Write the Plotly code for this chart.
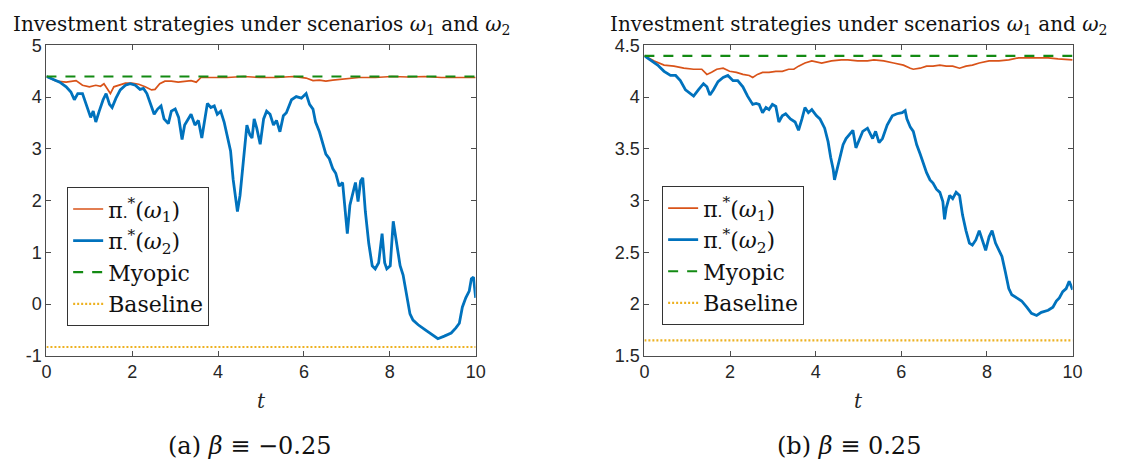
import plotly.graph_objects as go

# ---------------- data ----------------
# Panel (a): beta = -0.25
t_a_w2 = [0.00, 0.15, 0.31, 0.46, 0.57, 0.65, 0.73, 0.84, 0.96, 1.03,
          1.09, 1.15, 1.23, 1.32, 1.39, 1.47, 1.53, 1.62, 1.72, 1.84,
          1.95, 2.07, 2.18, 2.26, 2.34, 2.44, 2.51, 2.59, 2.67, 2.74,
          2.84, 2.91, 3.00, 3.08, 3.16, 3.22, 3.30, 3.37, 3.46, 3.54,
          3.62, 3.68, 3.75, 3.83, 3.91, 3.98, 4.06, 4.14, 4.21, 4.29,
          4.35, 4.41, 4.45, 4.51, 4.56, 4.61, 4.67, 4.74, 4.79, 4.84,
          4.90, 4.98, 5.06, 5.13, 5.21, 5.29, 5.36, 5.44, 5.52, 5.59,
          5.71, 5.82, 5.94, 6.05, 6.13, 6.21, 6.27, 6.36, 6.44, 6.51,
          6.59, 6.67, 6.74, 6.82, 6.90, 6.97, 7.01, 7.07, 7.14, 7.20,
          7.26, 7.32, 7.37, 7.43, 7.51, 7.59, 7.66, 7.74, 7.82, 7.88,
          7.93, 8.01, 8.08, 8.16, 8.24, 8.31, 8.39, 8.47, 8.54, 8.66,
          8.81, 8.97, 9.12, 9.27, 9.43, 9.54, 9.62, 9.69, 9.77, 9.85,
          9.90, 9.95, 10.00]
v_a_w2 = [4.40, 4.35, 4.29, 4.20, 4.10, 3.95, 4.07, 4.07, 3.77, 3.61,
          3.73, 3.52, 3.73, 3.95, 4.07, 3.86, 3.80, 3.98, 4.14, 4.23,
          4.26, 4.23, 4.15, 4.17, 4.07, 3.83, 3.67, 3.77, 3.83, 3.58,
          3.49, 3.73, 3.77, 3.61, 3.18, 3.46, 3.58, 3.67, 3.46, 3.55,
          3.21, 3.52, 3.88, 3.80, 3.83, 3.67, 3.73, 3.52, 3.27, 2.96,
          2.41, 2.04, 1.79, 2.10, 2.53, 2.96, 3.46, 3.27, 3.21, 3.58,
          3.40, 3.09, 3.58, 3.73, 3.67, 3.46, 3.55, 3.33, 3.64, 3.70,
          3.95, 4.01, 3.98, 4.07, 3.86, 3.77, 3.52, 3.33, 3.09, 2.90,
          2.81, 2.62, 2.53, 2.28, 2.35, 1.79, 1.36, 1.91, 2.16, 2.35,
          1.98, 2.38, 2.44, 1.79, 1.17, 0.74, 0.68, 0.80, 1.36, 0.80,
          0.68, 0.74, 1.60, 1.17, 0.74, 0.56, 0.19, -0.19, -0.31, -0.40,
          -0.49, -0.59, -0.67, -0.62, -0.56, -0.46, -0.37, -0.06, 0.12, 0.25,
          0.49, 0.52, 0.12]

t_a_w1 = [0.00, 0.23, 0.46, 0.69, 0.84, 1.00, 1.15, 1.26, 1.34, 1.42,
          1.49, 1.57, 1.69, 1.84, 1.99, 2.15, 2.30, 2.45, 2.53, 2.64,
          2.76, 2.91, 3.07, 3.22, 3.37, 3.49, 3.60, 3.83, 4.21, 4.60,
          4.98, 5.36, 5.75, 6.05, 6.21, 6.36, 6.51, 6.67, 6.90, 7.28,
          7.66, 8.05, 8.43, 8.81, 9.20, 9.58, 10.00]
v_a_w1 = [4.40, 4.31, 4.29, 4.32, 4.23, 4.20, 4.23, 4.21, 4.26, 4.17,
          4.07, 4.20, 4.23, 4.27, 4.27, 4.25, 4.20, 4.14, 4.15, 4.26,
          4.31, 4.31, 4.29, 4.30, 4.32, 4.29, 4.38, 4.38, 4.38, 4.40,
          4.38, 4.38, 4.40, 4.37, 4.32, 4.33, 4.31, 4.33, 4.35, 4.38,
          4.38, 4.40, 4.39, 4.40, 4.38, 4.38, 4.38]

# Panel (b): beta = 0.25
t_b_w2 = [0.00, 0.15, 0.31, 0.46, 0.61, 0.73, 0.84, 0.96, 1.07, 1.15,
          1.26, 1.38, 1.46, 1.53, 1.61, 1.72, 1.84, 1.95, 2.07, 2.18,
          2.30, 2.41, 2.53, 2.61, 2.68, 2.76, 2.84, 2.91, 2.99, 3.07,
          3.14, 3.22, 3.30, 3.41, 3.52, 3.60, 3.68, 3.75, 3.83, 3.91,
          4.02, 4.10, 4.21, 4.29, 4.35, 4.41, 4.44, 4.51, 4.56, 4.64,
          4.71, 4.79, 4.87, 4.94, 5.02, 5.10, 5.21, 5.33, 5.40, 5.48,
          5.56, 5.67, 5.79, 5.90, 6.02, 6.09, 6.13, 6.21, 6.28, 6.36,
          6.44, 6.51, 6.59, 6.67, 6.74, 6.82, 6.90, 6.97, 7.01, 7.05,
          7.13, 7.20, 7.28, 7.36, 7.43, 7.51, 7.59, 7.66, 7.74, 7.82,
          7.89, 7.97, 8.05, 8.12, 8.20, 8.28, 8.35, 8.43, 8.51, 8.58,
          8.70, 8.81, 8.93, 9.04, 9.16, 9.27, 9.43, 9.54, 9.62, 9.69,
          9.77, 9.85, 9.92, 10.00]
v_b_w2 = [4.40, 4.36, 4.31, 4.25, 4.21, 4.21, 4.16, 4.07, 4.04, 4.01,
          4.07, 4.13, 4.10, 4.02, 4.07, 4.15, 4.19, 4.21, 4.16, 4.16,
          4.10, 4.01, 3.93, 3.94, 3.93, 3.85, 3.90, 3.88, 3.93, 3.91,
          3.76, 3.82, 3.84, 3.79, 3.76, 3.68, 3.79, 3.90, 3.85, 3.88,
          3.82, 3.79, 3.70, 3.57, 3.42, 3.30, 3.20, 3.33, 3.42, 3.54,
          3.60, 3.64, 3.68, 3.51, 3.60, 3.67, 3.70, 3.60, 3.67, 3.56,
          3.60, 3.73, 3.82, 3.84, 3.85, 3.87, 3.79, 3.71, 3.67, 3.54,
          3.45, 3.36, 3.27, 3.20, 3.17, 3.11, 3.08, 2.99, 2.82, 2.93,
          3.05, 3.02, 3.08, 3.05, 2.86, 2.71, 2.59, 2.57, 2.62, 2.71,
          2.62, 2.52, 2.65, 2.71, 2.59, 2.52, 2.46, 2.31, 2.15, 2.09,
          2.06, 2.03, 1.97, 1.91, 1.89, 1.92, 1.94, 1.97, 2.03, 2.06,
          2.12, 2.15, 2.22, 2.14]

t_b_w1 = [0.00, 0.23, 0.46, 0.69, 0.92, 1.15, 1.34, 1.46, 1.57, 1.69,
          1.84, 1.99, 2.15, 2.30, 2.45, 2.53, 2.64, 2.76, 2.91, 3.07,
          3.22, 3.37, 3.49, 3.60, 3.75, 3.91, 4.14, 4.37, 4.60, 4.75,
          4.98, 5.21, 5.36, 5.59, 5.82, 6.05, 6.21, 6.28, 6.44, 6.59,
          6.74, 6.90, 7.05, 7.20, 7.36, 7.51, 7.66, 7.82, 8.05, 8.28,
          8.51, 8.74, 8.97, 9.20, 9.43, 9.66, 9.89, 10.00]
v_b_w1 = [4.40, 4.35, 4.31, 4.30, 4.28, 4.27, 4.27, 4.22, 4.24, 4.27,
          4.28, 4.25, 4.24, 4.22, 4.21, 4.19, 4.22, 4.24, 4.24, 4.25,
          4.25, 4.27, 4.27, 4.30, 4.33, 4.35, 4.33, 4.35, 4.36, 4.36,
          4.35, 4.35, 4.36, 4.35, 4.33, 4.31, 4.28, 4.27, 4.28, 4.30,
          4.30, 4.31, 4.30, 4.30, 4.28, 4.30, 4.31, 4.33, 4.35, 4.35,
          4.36, 4.38, 4.38, 4.38, 4.38, 4.37, 4.36, 4.36]

t_span = [0, 10]
myopic_a = [4.40, 4.40]
baseline_a = [-0.83, -0.83]
myopic_b = [4.40, 4.40]
baseline_b = [1.65, 1.65]

yticks_a = [-1, 0, 1, 2, 3, 4, 5]
yticktext_a = ["-1", "0", "1", "2", "3", "4", "5"]
yticks_b = [1.5, 2, 2.5, 3, 3.5, 4, 4.5]
yticktext_b = ["1.5", "2", "2.5", "3", "3.5", "4", "4.5"]
xticks = [0, 2, 4, 6, 8, 10]

panel_title = "Investment strategies under scenarios <i>ω</i><sub>1</sub> and <i>ω</i><sub>2</sub>"
captions = ["(a) <i>β</i> ≡ −0.25", "(b) <i>β</i> ≡ 0.25"]
names = ["π<sub>·</sub><sup>*</sup>(<i>ω</i><sub>1</sub>)",
         "π<sub>·</sub><sup>*</sup>(<i>ω</i><sub>2</sub>)",
         "Myopic", "Baseline"]

# ---------------- styling ----------------
W, H = 1127, 475
C_RED = "#D95319"
C_BLUE = "#0072BD"
C_GREEN = "#138A13"
C_YEL = "#EDB120"
SERIF = "DejaVu Serif, Liberation Serif, serif"
SANS = "Liberation Sans, Arial, sans-serif"
AX = "#4D4D4D"

fig = go.Figure()

panels = [
    dict(x1=t_a_w1, y1=v_a_w1, x2=t_a_w2, y2=v_a_w2, my=myopic_a, bl=baseline_a,
         xa="x", ya="y", legend="legend"),
    dict(x1=t_b_w1, y1=v_b_w1, x2=t_b_w2, y2=v_b_w2, my=myopic_b, bl=baseline_b,
         xa="x2", ya="y2", legend="legend2"),
]

for p in panels:
    fig.add_trace(go.Scatter(x=p["x1"], y=p["y1"], mode="lines", name=names[0],
                             line=dict(color=C_RED, width=1.7),
                             xaxis=p["xa"], yaxis=p["ya"], legend=p["legend"]))
    fig.add_trace(go.Scatter(x=p["x2"], y=p["y2"], mode="lines", name=names[1],
                             line=dict(color=C_BLUE, width=2.8),
                             xaxis=p["xa"], yaxis=p["ya"], legend=p["legend"]))
    fig.add_trace(go.Scatter(x=t_span, y=p["my"], mode="lines", name=names[2],
                             line=dict(color=C_GREEN, width=2.2, dash="10px,9px"),
                             xaxis=p["xa"], yaxis=p["ya"], legend=p["legend"]))
    fig.add_trace(go.Scatter(x=t_span, y=p["bl"], mode="lines", name=names[3],
                             line=dict(color=C_YEL, width=2.2, dash="2px,2px"),
                             xaxis=p["xa"], yaxis=p["ya"], legend=p["legend"]))


def px_x(v):
    return v / W


def px_y(v):
    return 1 - v / H


ax_common = dict(showline=True, linecolor=AX, linewidth=1, mirror="ticks",
                 ticks="inside", ticklen=5, tickcolor=AX, showgrid=False,
                 zeroline=False, tickfont=dict(family=SANS, size=18, color="#262626"))

dom_a = [px_x(42), px_x(477)]
dom_b = [px_x(648), px_x(1082)]
dom_y = [px_y(361), px_y(37)]

leg_common = dict(xanchor="left", yanchor="top", bordercolor="#333333", borderwidth=1,
                  bgcolor="white", font=dict(family=SERIF, size=22, color="#111111"),
                  tracegroupgap=0, itemwidth=30)

fig.update_layout(
    width=W, height=H, margin=dict(l=0, r=0, t=0, b=0),
    paper_bgcolor="white", plot_bgcolor="white",
    xaxis=dict(domain=dom_a, range=[0, 10], tickvals=xticks, anchor="y", **ax_common),
    yaxis=dict(domain=dom_y, range=[-1, 5], tickvals=yticks_a, ticktext=yticktext_a,
               anchor="x", **ax_common),
    xaxis2=dict(domain=dom_b, range=[0, 10], tickvals=xticks, anchor="y2", **ax_common),
    yaxis2=dict(domain=dom_y, range=[1.5, 4.5], tickvals=yticks_b, ticktext=yticktext_b,
                anchor="x2", **ax_common),
    legend=dict(x=px_x(63), y=px_y(185), **leg_common),
    legend2=dict(x=px_x(666), y=px_y(184), **leg_common),
    showlegend=True,
)

annos = []
for cx in [(42 + 477) / 2, (648 + 1082) / 2]:
    annos.append(dict(text=panel_title, x=px_x(cx), y=px_y(16), xref="paper", yref="paper",
                      xanchor="center", yanchor="middle", showarrow=False,
                      font=dict(family=SERIF, size=20, color="#111111")))
    annos.append(dict(text="<i>t</i>", x=px_x(cx), y=px_y(408), xref="paper", yref="paper",
                      xanchor="center", yanchor="middle", showarrow=False,
                      font=dict(family=SERIF, size=20, color="#262626")))
for cap, cap_x in zip(captions, [248, 855]):
    annos.append(dict(text=cap, x=px_x(cap_x), y=px_y(455), xref="paper", yref="paper",
                      xanchor="center", yanchor="middle", showarrow=False,
                      font=dict(family=SERIF, size=24, color="#111111")))
fig.update_layout(annotations=annos)

fig.write_html("out.html",
               config={"displayModeBar": False},
               post_script="document.body.style.margin='0px';"
                           "document.body.style.overflow='hidden';")
